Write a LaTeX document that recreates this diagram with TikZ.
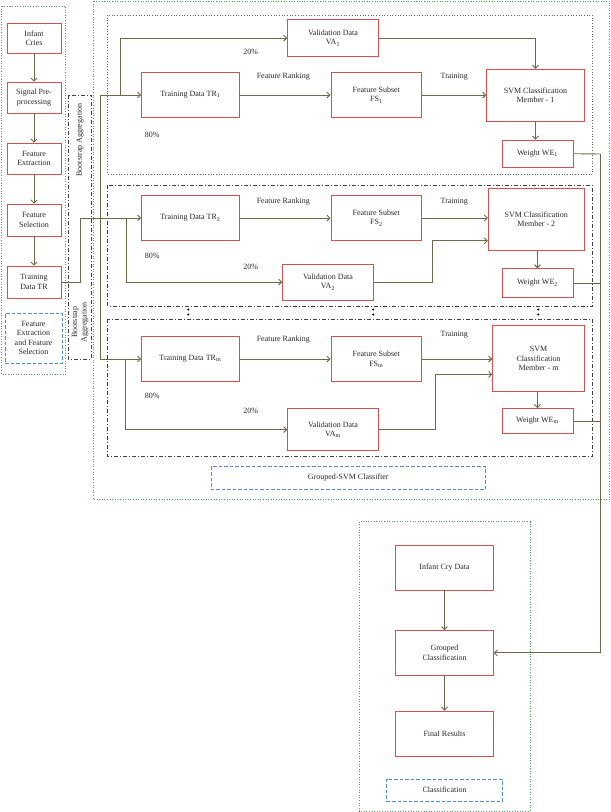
\documentclass[tikz,border=0pt]{standalone}
\usepackage{fontspec}
\setmainfont{Liberation Serif}
\usetikzlibrary{arrows.meta,calc}
\definecolor{boxred}{RGB}{218,78,78}
\definecolor{arrcol}{RGB}{112,102,72}
\definecolor{grn}{RGB}{70,170,90}
\definecolor{blu}{RGB}{80,140,220}
\definecolor{txt}{RGB}{40,40,40}
\tikzset{
  every node/.style={font=\fontsize{8}{9.5}\selectfont, text=txt},
  rbox/.style={draw=boxred, line width=0.9pt, fill=white, align=center, inner sep=1pt},
  arr/.style={draw=arrcol, line width=0.9pt, -{Straight Barb[length=3pt,width=6pt]}},
  ln/.style={draw=arrcol, line width=0.9pt},
  grnbox/.style={draw=grn, line width=0.9pt, dash pattern=on 1pt off 1.6pt},
  blubox/.style={draw=blu, line width=0.8pt, dash pattern=on 3.5pt off 2pt, align=center},
  dotbox/.style={draw=black!60, line width=0.7pt, dash pattern=on 0.9pt off 1.8pt},
  ddbox/.style={draw=black!75, line width=0.8pt, dash pattern=on 4pt off 2pt on 1pt off 2pt},
  lbl/.style={inner sep=0pt},
}
\begin{document}
\begin{tikzpicture}[x=1pt,y=-1pt]
\useasboundingbox (0,0) rectangle (611,812);
% outer containers
\draw[grnbox] (1.5,6) rectangle (65.7,374);
\draw[grnbox] (93.3,1) rectangle (609.5,499.5);
\draw[grnbox] (359.3,521.7) rectangle (530,811);
\draw[dotbox] (107.7,15) rectangle (592.3,174);
\draw[ddbox] (107.7,185) rectangle (592.3,306);
\draw[ddbox] (107.7,319) rectangle (592.3,456.7);
\draw[ddbox] (68.3,95) rectangle (91.7,359);
% vertical dots
\foreach \xx in {188.3,373.3,538.3}{
  \fill[black] (\xx,309.5) circle (1.1);
  \fill[black] (\xx,314.5) circle (1.1);
}
% left column
\node[rbox, minimum width=54pt, minimum height=30pt] (cries) at (34,38) {Infant\\Cries};
\node[rbox, minimum width=54pt, minimum height=31pt] (pre) at (34,97.5) {Signal Pre-\\processing};
\node[rbox, minimum width=54pt, minimum height=31pt] (ext) at (34,158.5) {Feature\\Extraction};
\node[rbox, minimum width=54pt, minimum height=32pt] (sel) at (34,220) {Feature\\Selection};
\node[rbox, minimum width=54pt, minimum height=32pt] (trd) at (34,282) {Training\\Data TR};
\node[blubox, minimum width=57pt, minimum height=50pt] (fe) at (33.5,338) {Feature\\Extraction\\and Feature\\Selection};
\draw[arr] (cries) -- (pre);
\draw[arr] (pre) -- (ext);
\draw[arr] (ext) -- (sel);
\draw[arr] (sel) -- (trd);
\node[lbl, rotate=90] (bag1) at (80,140) {Bootstrap Aggregation};
\node[lbl, rotate=90, align=center] (bag2) at (80,322) {Bootstrap\\Aggregation};
% group 1
\node[rbox, minimum width=90.6pt, minimum height=37.4pt] (va1) at (333,38) {Validation Data\\VA\textsubscript{1}};
\node[rbox, minimum width=97.3pt, minimum height=44.6pt] (tr1) at (190.3,95) {Training Data TR\textsubscript{1}};
\node[rbox, minimum width=90.7pt, minimum height=44.6pt] (fs1) at (376.3,95) {Feature Subset\\FS\textsubscript{1}};
\node[rbox, minimum width=97.6pt, minimum height=51.7pt] (svm1) at (535.5,95.2) {SVM Classification\\Member - 1};
\node[rbox, minimum width=71pt, minimum height=27.3pt] (we1) at (537.5,153.7) {Weight WE\textsubscript{1}};
% group 2
\node[rbox, minimum width=97.3pt, minimum height=44.6pt] (tr2) at (190.3,218) {Training Data TR\textsubscript{2}};
\node[rbox, minimum width=90.7pt, minimum height=44.6pt] (fs2) at (376.3,218) {Feature Subset\\FS\textsubscript{2}};
\node[rbox, minimum width=96pt, minimum height=62pt] (svm2) at (536.3,219.3) {SVM Classification\\Member - 2};
\node[rbox, minimum width=90.6pt, minimum height=36pt] (va2) at (328,282) {Validation Data\\VA\textsubscript{2}};
\node[rbox, minimum width=71pt, minimum height=28.6pt] (we2) at (537.5,283) {Weight WE\textsubscript{2}};
% group m
\node[rbox, minimum width=97.3pt, minimum height=44.3pt] (trm) at (190.3,359) {Training Data TR\textsubscript{m}};
\node[rbox, minimum width=90.7pt, minimum height=44.3pt] (fsm) at (376.3,359) {Feature Subset\\FS\textsubscript{m}};
\node[rbox, minimum width=91.6pt, minimum height=66pt] (svmm) at (538.5,358.7) {SVM\\Classification\\Member - m};
\node[rbox, minimum width=90.6pt, minimum height=41.7pt] (vam) at (333,429.5) {Validation Data\\VA\textsubscript{m}};
\node[rbox, minimum width=71pt, minimum height=25pt] (wem) at (537.5,421) {Weight WE\textsubscript{m}};
\node[blubox, minimum width=274.7pt, minimum height=22.7pt] (gsvm) at (348.3,478) {Grouped-SVM Classifier};
% classification
\node[rbox, minimum width=97.6pt, minimum height=44.3pt] (icd) at (444.5,567.8) {Infant Cry Data};
\node[rbox, minimum width=97.6pt, minimum height=44.3pt] (gc) at (444.5,652.8) {Grouped\\Classification};
\node[rbox, minimum width=97.6pt, minimum height=45pt] (fr) at (444.5,733.5) {Final Results};
\node[blubox, minimum width=115.6pt, minimum height=22pt] (cls) at (444.5,790) {Classification};
\draw[arr] (icd) -- (gc);
\draw[arr] (gc) -- (fr);
% labels
\node[lbl] (fr1) at (283.3,76.7) {Feature Ranking};
\node[lbl] (tn1) at (454.3,76.7) {Training};
\node[lbl] (p20a) at (250.7,51.7) {20\%};
\node[lbl] (p80a) at (152.3,135) {80\%};
\node[lbl] (fr2) at (283.3,201.7) {Feature Ranking};
\node[lbl] (tn2) at (454.3,201.7) {Training};
\node[lbl] (p80b) at (152.3,256) {80\%};
\node[lbl] (p20b) at (250.7,266.7) {20\%};
\node[lbl] (fr3) at (283.3,340) {Feature Ranking};
\node[lbl] (tn3) at (454.3,335) {Training};
\node[lbl] (p80c) at (152.3,395.7) {80\%};
\node[lbl] (p20c) at (250.7,411) {20\%};
% coordinates
\coordinate (bus1) at (100.7,95);
\coordinate (busx) at (100.7,218);
\coordinate (busm) at (100.7,359);
\coordinate (sp1) at (120,95);
\coordinate (k1) at (80,218);
\coordinate (sp2) at (126.7,218);
\coordinate (spm) at (125.7,359);
\coordinate (j2) at (432.3,282);
\coordinate (jm) at (435.7,429.5);
\coordinate (rb) at (600.5,154);
\coordinate (rbe) at (600.5,652.8);
% group 1 connectors
\draw[ln] (busx) -- (bus1);
\draw[arr] (bus1) -- (tr1.west);
\draw[arr] (sp1) |- (va1.west);
\draw[arr] (tr1) -- (fs1);
\draw[arr] (fs1) -- (fs1.east -| svm1.west);
\draw[arr] (va1.east) -| (svm1.north);
\draw[arr] (svm1.south) -- (svm1.south |- we1.north);
% group 2
\draw[arr] (trd.east) -| (k1) -- (tr2.west);
\draw[arr] (sp2) |- (va2.west);
\draw[arr] (tr2) -- (fs2);
\draw[arr] (fs2) -- (fs2.east -| svm2.west);
\draw[arr] (va2.east) -- (j2) |- ($(svm2.south west)+(0,-10)$);
\draw[arr] (svm2.south -| we2.north) -- (we2.north);
% group m
\draw[arr] (busx) -- (busm) -- (trm.west);
\draw[arr] (spm) |- (vam.west);
\draw[arr] (trm) -- (fsm);
\draw[arr] (fsm) -- (fsm.east -| svmm.west);
\draw[arr] (vam.east) -- (jm) |- ($(svmm.south west)+(0,-17.7)$);
\draw[arr] (svmm.south -| wem.north) -- (wem.north);
% weights to classification
\draw[ln] (we1.east) -- (rb);
\draw[ln] (we2.east) -- (we2.east -| rb);
\draw[ln] (wem.east) -- (wem.east -| rb);
\draw[arr] (rb) -- (rbe) -- (gc.east);
\end{tikzpicture}
\end{document}
